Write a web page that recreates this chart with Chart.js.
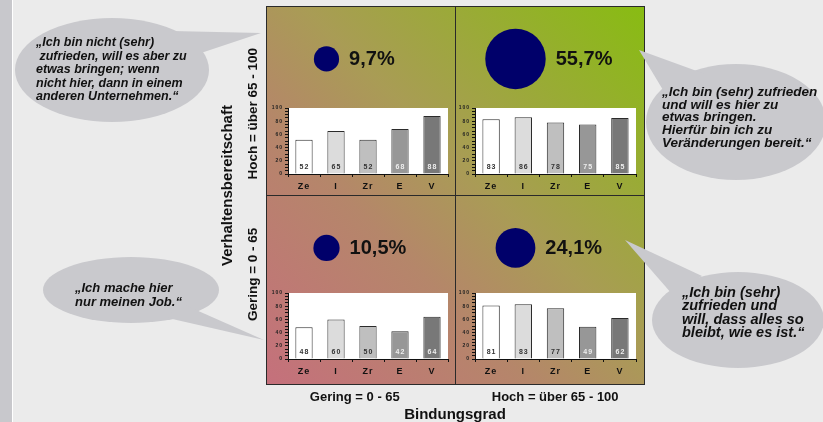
<!DOCTYPE html>
<html>
<head>
<meta charset="utf-8">
<script src="https://cdn.jsdelivr.net/npm/chart.js@4.4.1/dist/chart.umd.min.js"></script>
<style>
  html, body { margin: 0; padding: 0; background: #ebebeb; }
  #wrap { position: relative; width: 823px; height: 422px; overflow: hidden; }
  canvas { position: absolute; }
</style>
</head>
<body>
<div id="wrap">
  <canvas id="main" width="823" height="422" style="left:0;top:0"></canvas>
  <canvas id="miniTL" width="184" height="91" style="left:266px;top:103px"></canvas>
  <canvas id="miniTR" width="185" height="91" style="left:453px;top:103px"></canvas>
  <canvas id="miniBL" width="184" height="91" style="left:266px;top:288px"></canvas>
  <canvas id="miniBR" width="185" height="91" style="left:453px;top:288px"></canvas>
</div>
<script>
// Portfolio: Bindungsgrad (x) vs. Verhaltensbereitschaft (y)
const bindungLabels = ['Gering = 0 - 65', 'Hoch = über 65 - 100'];
const bereitschaftLabels = ['Gering = 0 - 65', 'Hoch = über 65 - 100'];

// quadrant order: top-left, top-right, bottom-left, bottom-right
const quadrantCol = [0, 1, 0, 1];
const quadrantRow = [1, 1, 0, 0];
const shares = [9.7, 55.7, 10.5, 24.1];

// profile per quadrant
const barCategories = ['Ze', 'I', 'Zr', 'E', 'V'];
const valuesTL = [52, 65, 52, 68, 88];
const valuesTR = [83, 86, 78, 75, 85];
const valuesBL = [48, 60, 50, 42, 64];
const valuesBR = [81, 83, 77, 49, 62];

// statements per quadrant
const quoteTL = ['„Ich bin nicht (sehr)', ' zufrieden, will es aber zu', 'etwas bringen; wenn', 'nicht hier, dann in einem', 'anderen Unternehmen.“'];
const quoteTR = ['„Ich bin (sehr) zufrieden', 'und will es hier zu', 'etwas bringen.', 'Hierfür bin ich zu', 'Veränderungen bereit.“'];
const quoteBL = ['„Ich mache hier', 'nur meinen Job.“'];
const quoteBR = ['„Ich bin (sehr)', 'zufrieden und', 'will, dass alles so', 'bleibt, wie es ist.“'];

const FAMILY = "'Liberation Sans', Arial, Helvetica, sans-serif";
Chart.defaults.font.family = FAMILY;

// ---------- main portfolio chart ----------
const backdrop = {
  id: 'backdrop',
  beforeDraw(chart) {
    const { ctx, chartArea: a } = chart;
    ctx.save();
    ctx.fillStyle = '#ebebeb';
    ctx.fillRect(0, 0, chart.width, chart.height);
    ctx.fillStyle = '#c8c8cc';
    ctx.fillRect(0, 0, 12, chart.height);
    ctx.fillStyle = '#ffffff';
    ctx.fillRect(12, 0, 1, chart.height);
    const g = ctx.createLinearGradient(a.left, a.bottom, a.right, a.top);
    g.addColorStop(0, '#c5707c');
    g.addColorStop(0.35, '#b5866a');
    g.addColorStop(0.55, '#a99c55');
    g.addColorStop(1, '#88bc12');
    ctx.fillStyle = g;
    ctx.fillRect(a.left, a.top, a.right - a.left, a.bottom - a.top);
    ctx.restore();
  }
};

const shareText = {
  id: 'shareText',
  afterDatasetsDraw(chart) {
    const { ctx } = chart;
    const meta = chart.getDatasetMeta(0);
    ctx.save();
    ctx.font = 'bold 20px ' + FAMILY;
    ctx.fillStyle = '#111';
    ctx.textAlign = 'left';
    ctx.textBaseline = 'middle';
    meta.data.forEach((el, i) => {
      const txt = shares[i].toFixed(1).replace('.', ',') + '%';
      ctx.fillText(txt, el.x + el.options.radius + 10, el.y + 1);
    });
    ctx.restore();
  }
};

const rowAxis = {
  id: 'rowAxis',
  afterDraw(chart) {
    const { ctx, chartArea: a } = chart;
    const y = chart.scales.y;
    ctx.save();
    ctx.fillStyle = '#111';
    ctx.textAlign = 'center';
    ctx.textBaseline = 'middle';
    ctx.font = 'bold 13.5px ' + FAMILY;
    [0.58, 1.43].forEach((v, i) => {
      ctx.save();
      ctx.translate(a.left - 13, y.getPixelForValue(v));
      ctx.rotate(-Math.PI / 2);
      ctx.fillText(bereitschaftLabels[i], 0, 0);
      ctx.restore();
    });
    ctx.font = 'bold 15px ' + FAMILY;
    ctx.translate(a.left - 38, y.getPixelForValue(1.05));
    ctx.rotate(-Math.PI / 2);
    ctx.fillText('Verhaltensbereitschaft', 0, 0);
    ctx.restore();
  }
};

const speech = {
  id: 'speech',
  afterDraw(chart) {
    const { ctx } = chart;
    const bubbles = [
      { cx: 112, cy: 70, rx: 97, ry: 52, tail: [[172, 31], [261, 33], [195, 55]], lines: quoteTL, x: 36, y: 43, step: 13.5, size: 12.5 },
      { cx: 736, cy: 122, rx: 90, ry: 58, tail: [[639, 50], [705, 74], [672, 105]], lines: quoteTR, x: 662, y: 92, step: 12.8, size: 13.5 },
      { cx: 131, cy: 290, rx: 88, ry: 33, tail: [[178, 302], [264, 340], [168, 318]], lines: quoteBL, x: 75, y: 288, step: 14, size: 13 },
      { cx: 738, cy: 320, rx: 86, ry: 48, tail: [[625, 240], [702, 276], [672, 294]], lines: quoteBR, x: 682, y: 293, step: 13.4, size: 14.5 }
    ];
    ctx.save();
    bubbles.forEach(b => {
      ctx.fillStyle = '#c9c9cd';
      ctx.beginPath();
      ctx.ellipse(b.cx, b.cy, b.rx, b.ry, 0, 0, Math.PI * 2);
      ctx.fill();
      ctx.beginPath();
      ctx.moveTo(b.tail[0][0], b.tail[0][1]);
      ctx.lineTo(b.tail[1][0], b.tail[1][1]);
      ctx.lineTo(b.tail[2][0], b.tail[2][1]);
      ctx.closePath();
      ctx.fill();
      ctx.fillStyle = '#111';
      ctx.font = 'italic bold ' + b.size + 'px ' + FAMILY;
      ctx.textAlign = 'left';
      ctx.textBaseline = 'middle';
      b.lines.forEach((t, i) => ctx.fillText(t, b.x, b.y + i * b.step));
    });
    ctx.restore();
  }
};

new Chart(document.getElementById('main'), {
  type: 'bubble',
  data: {
    datasets: [{
      data: shares.map((s, i) => ({ x: quadrantCol[i] + 0.32, y: quadrantRow[i] + 0.72, r: 4.05 * Math.sqrt(s) })),
      backgroundColor: '#00006a',
      borderWidth: 0
    }]
  },
  options: {
    responsive: false,
    animation: false,
    events: [],
    layout: { autoPadding: false, padding: { left: 266, right: 179, top: 6, bottom: 0 } },
    plugins: { legend: { display: false }, tooltip: { enabled: false } },
    scales: {
      x: {
        type: 'linear', min: 0, max: 2,
        afterBuildTicks: s => { s.ticks = [0, 0.47, 1, 1.53, 2].map(v => ({ value: v })); },
        afterFit: s => { s.height = 38; },
        grid: { drawTicks: false, color: c => Number.isInteger(c.tick.value) ? '#2a2a2a' : 'rgba(0,0,0,0)' },
        border: { display: true, color: '#2a2a2a' },
        ticks: {
          autoSkip: false, maxRotation: 0, padding: 6, color: '#111',
          font: { size: 13, weight: 'bold' },
          callback: v => v === 0.47 ? bindungLabels[0] : (v === 1.53 ? bindungLabels[1] : '')
        },
        title: { display: true, text: 'Bindungsgrad', color: '#111', font: { size: 15, weight: 'bold', lineHeight: 1 }, padding: 0 }
      },
      y: {
        type: 'linear', min: 0, max: 2,
        afterBuildTicks: s => { s.ticks = [0, 1, 2].map(v => ({ value: v })); },
        afterFit: s => { s.width = 0; },
        grid: { drawTicks: false, color: '#2a2a2a' },
        border: { display: true, color: '#2a2a2a' },
        ticks: { display: false }
      }
    }
  },
  plugins: [backdrop, shareText, rowAxis, speech]
});

// ---------- profile bar charts ----------
const barColors = ['#ffffff', '#dcdcdc', '#bfbfbf', '#979797', '#787878'];
const barTextColors = ['#333333', '#333333', '#333333', '#eeeeee', '#eeeeee'];

const miniDeco = {
  id: 'miniDeco',
  beforeLayout(chart) { chart.ctx.letterSpacing = '1px'; },
  beforeDraw(chart) {
    const { ctx, chartArea: a } = chart;
    ctx.letterSpacing = '1px';
    ctx.save();
    ctx.fillStyle = '#ffffff';
    ctx.fillRect(a.left, a.top, a.right - a.left, a.bottom - a.top);
    ctx.restore();
  },
  afterDatasetsDraw(chart) {
    const { ctx } = chart;
    const meta = chart.getDatasetMeta(0);
    const vals = chart.data.datasets[0].data;
    ctx.save();
    ctx.font = 'bold 7px ' + FAMILY;
    ctx.textAlign = 'center';
    ctx.textBaseline = 'middle';
    meta.data.forEach((el, i) => {
      ctx.fillStyle = barTextColors[i];
      ctx.fillText(String(vals[i]), el.x + 0.5, el.base - 6.5);
    });
    ctx.restore();
  }
};

function makeMini(id, values) {
  return new Chart(document.getElementById(id), {
    type: 'bar',
    data: {
      labels: barCategories,
      datasets: [{
        data: values,
        backgroundColor: barColors,
        borderColor: '#2b2b2b',
        borderWidth: 1,
        barPercentage: 0.54,
        categoryPercentage: 1
      }]
    },
    options: {
      responsive: false,
      animation: false,
      events: [],
      layout: { padding: { top: 4, right: 2, left: 0, bottom: 0 } },
      plugins: { legend: { display: false }, tooltip: { enabled: false } },
      scales: {
        x: {
          afterFit: s => { s.height = 20; },
          grid: { offset: true, drawOnChartArea: false, tickLength: 3, color: '#111' },
          border: { color: '#111' },
          ticks: { padding: 4, color: '#111', font: { size: 9, weight: 'bold' } }
        },
        y: {
          min: 0, max: 100,
          afterFit: s => { s.width = 22; },
          grid: { drawOnChartArea: false, tickLength: 3, color: '#111' },
          border: { color: '#111' },
          ticks: {
            stepSize: 5, autoSkip: false, padding: 2, color: '#222',
            font: { size: 5, weight: 'bold' },
            callback: v => (v % 20 === 0 ? String(v) : '')
          }
        }
      }
    },
    plugins: [miniDeco]
  });
}

makeMini('miniTL', valuesTL);
makeMini('miniTR', valuesTR);
makeMini('miniBL', valuesBL);
makeMini('miniBR', valuesBR);
</script>
</body>
</html>
